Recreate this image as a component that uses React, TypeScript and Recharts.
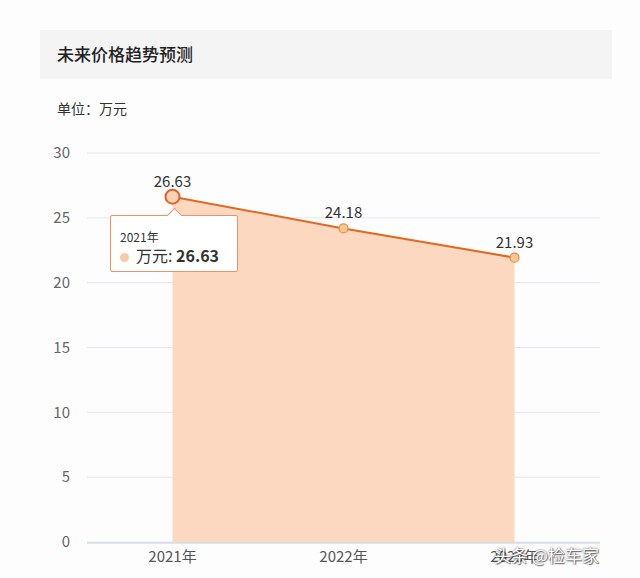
import {
  Area,
  CartesianGrid,
  ComposedChart,
  LabelList,
  Line,
  Tooltip,
  XAxis,
  YAxis,
} from 'recharts';

const years = ['2021年', '2022年', '2023年'];
const prices = [26.63, 24.18, 21.93];
const yTicks = [0, 5, 10, 15, 20, 25, 30];
const boundaryTicks = [0, 1, 2, 3];

const data = years.map((year, i) => ({ year, price: prices[i] }));

const FONT = '"Noto Sans CJK SC", "Noto Sans", sans-serif';
const LINE = '#DF6A22';
const FILL = '#FCD8C0';

function PriceTooltip({ active, payload }: any) {
  if (!active || !payload?.length) return null;
  const row = payload[0].payload;
  return (
    <div
      style={{
        position: 'relative',
        width: 126,
        height: 55,
        background: '#fff',
        border: '1px solid #E99466',
        borderRadius: 2,
        fontFamily: FONT,
        color: '#333',
        boxSizing: 'content-box',
      }}
    >
      <div
        style={{
          position: 'absolute',
          left: 58,
          top: -6,
          width: 10,
          height: 10,
          background: '#fff',
          borderLeft: '1px solid #E99466',
          borderTop: '1px solid #E99466',
          transform: 'rotate(45deg)',
        }}
      />
      <div style={{ position: 'absolute', left: 9, top: 14, fontSize: 12, lineHeight: '14px' }}>
        {row.year}
      </div>
      <div
        style={{
          position: 'absolute',
          left: 9,
          top: 30,
          fontSize: 16,
          lineHeight: '19px',
          whiteSpace: 'nowrap',
        }}
      >
        <span
          style={{
            display: 'inline-block',
            width: 9,
            height: 9,
            borderRadius: '50%',
            background: '#F8C9A4',
            marginRight: 7,
            verticalAlign: 'middle',
          }}
        />
        万元:{' '}
        <span style={{ fontWeight: 700 }}>{payload[0].value}</span>
      </div>
    </div>
  );
}

export default function App() {
  return (
    <div
      style={{
        position: 'absolute',
        left: 0,
        top: 0,
        width: 640,
        height: 578,
        background: '#fdfdfe',
        fontFamily: FONT,
        overflow: 'hidden',
      }}
    >
      <div
        style={{
          position: 'absolute',
          left: 40,
          top: 30,
          width: 572,
          height: 49,
          background: '#f4f4f5',
        }}
      >
        <div
          style={{
            position: 'absolute',
            left: 17,
            top: 13,
            fontSize: 17,
            lineHeight: '22px',
            fontWeight: 500,
            color: '#222',
          }}
        >
          未来价格趋势预测
        </div>
      </div>
      <div
        style={{
          position: 'absolute',
          left: 57,
          top: 98,
          fontSize: 14,
          lineHeight: '20px',
          color: '#333',
        }}
      >
        单位：万元
      </div>

      <div style={{ position: 'absolute', left: 0, top: 0 }}>
        <ComposedChart
          width={640}
          height={578}
          data={data}
          margin={{ top: 153, right: 40, bottom: 34, left: 0 }}
        >
          <CartesianGrid vertical={false} stroke="#e3e6ec" />
          {/* boundary ticks between the year bands */}
          <XAxis
            xAxisId="grid"
            type="number"
            domain={[0, 3]}
            ticks={boundaryTicks}
            tick={false}
            height={1}
            tickSize={9}
            stroke="#c3cad2"
          />
          <XAxis
            xAxisId="cat"
            dataKey="year"
            scale="point"
            padding={{ left: 85.5, right: 85.5 }}
            height={1}
            axisLine={false}
            tickLine={false}
            tickSize={0}
            tickMargin={9}
            tick={{ fontSize: 15, fill: '#555' }}
          />
          <YAxis
            domain={[0, 30]}
            ticks={yTicks}
            width={87}
            axisLine={false}
            tickLine={false}
            tickSize={0}
            tickMargin={17}
            tick={{ fontSize: 15, fill: '#666' }}
          />
          <Tooltip
            defaultIndex={0}
            active
            cursor={false}
            position={{ x: 110, y: 215 }}
            content={<PriceTooltip />}
            wrapperStyle={{ outline: 'none' }}
            isAnimationActive={false}
          />
          <Area
            xAxisId="cat"
            type="linear"
            dataKey="price"
            stroke="none"
            fill={FILL}
            fillOpacity={1}
            dot={false}
            activeDot={false}
            isAnimationActive={false}
          />
          <Line
            xAxisId="cat"
            type="linear"
            dataKey="price"
            stroke={LINE}
            strokeWidth={2}
            dot={{ r: 4.5, fill: '#F8C890', stroke: '#E58A45', strokeWidth: 1.2 }}
            activeDot={{ r: 7, fill: '#FBD3B5', stroke: '#E0652A', strokeWidth: 2 }}
            isAnimationActive={false}
          >
            <LabelList
              dataKey="price"
              position="top"
              offset={10}
              style={{ fontSize: 15, fill: '#333' }}
            />
          </Line>
        </ComposedChart>
      </div>

      <div
        style={{
          position: 'absolute',
          left: 494,
          top: 543,
          fontSize: 17,
          lineHeight: '24px',
          color: '#fff',
          textShadow: '0 0 2px rgba(0,0,0,0.7), 1px 1px 1px rgba(0,0,0,0.5)',
          whiteSpace: 'nowrap',
        }}
      >
        头条 @检车家
      </div>
    </div>
  );
}
